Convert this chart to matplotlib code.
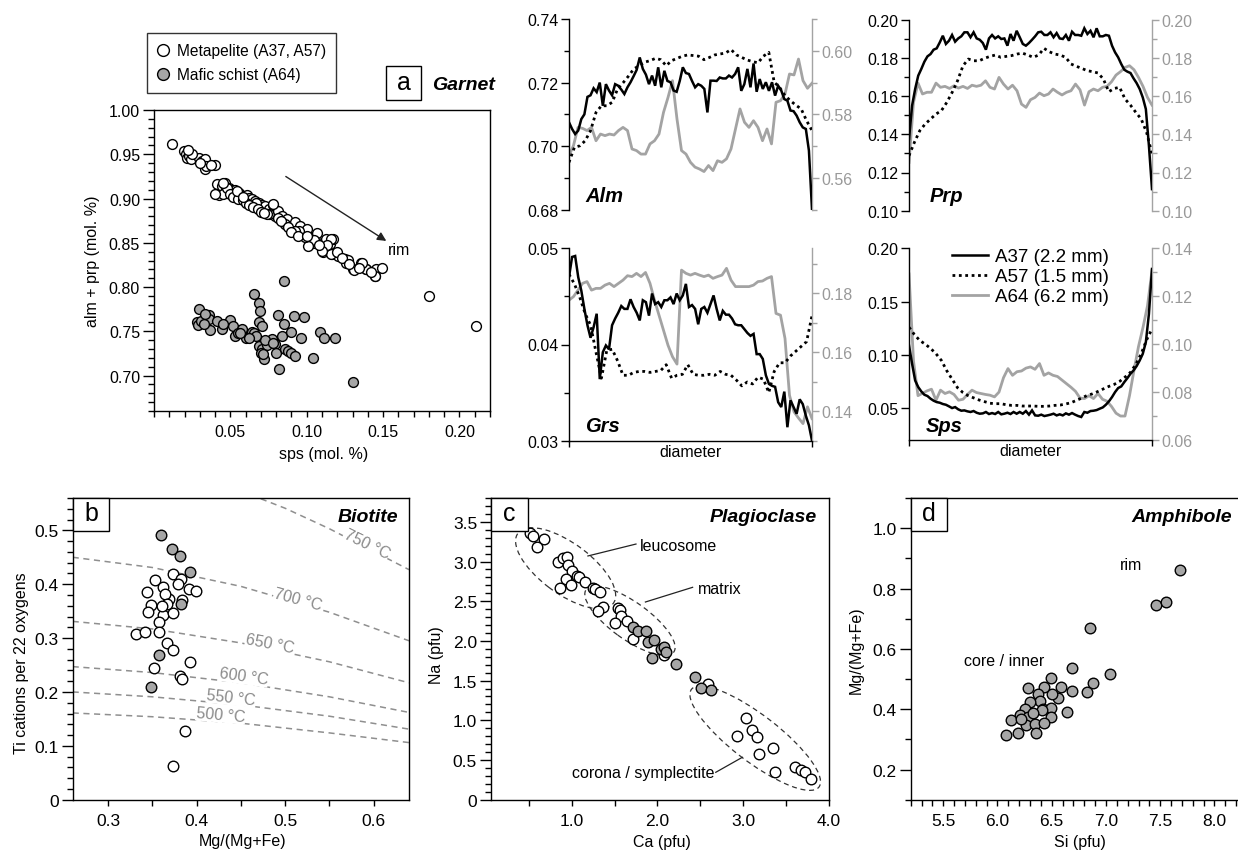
import numpy as np
import matplotlib
matplotlib.use("Agg")
import matplotlib.pyplot as plt
from matplotlib.patches import Ellipse, Rectangle
from matplotlib.ticker import MultipleLocator, FuncFormatter, FixedLocator
from matplotlib.lines import Line2D

plt.rcParams['font.family'] = ['Liberation Sans', 'DejaVu Sans']
plt.rcParams['axes.linewidth'] = 1.0

# ---------------- DATA ----------------
# (a) garnet: sps vs alm+prp
a_meta_sps = [0.0115, 0.0196, 0.0207, 0.0213, 0.0228, 0.0239, 0.0294, 0.0315, 0.0337, 0.0333, 0.0341, 0.0398,
              0.0413, 0.0424, 0.0446, 0.0463, 0.0472, 0.0489, 0.0511, 0.0533, 0.0559, 0.0576, 0.0609, 0.0624,
              0.0641, 0.0663, 0.0685, 0.0706, 0.0728, 0.075, 0.0776, 0.0793, 0.075, 0.0815, 0.0837, 0.0859,
              0.0869, 0.0902, 0.0924, 0.0956, 0.0978, 0.100, 0.1011, 0.1043, 0.1065, 0.1098, 0.1124, 0.1152,
              0.1174, 0.1108, 0.1163, 0.1206, 0.125, 0.1271, 0.1304, 0.1358, 0.1391, 0.1445, 0.1456,
              0.149, 0.145, 0.139, 0.136, 0.131, 0.126, 0.127, 0.116, 0.116, 0.113, 0.110, 0.105, 0.101,
              0.099, 0.095, 0.092, 0.086, 0.081, 0.074, 0.078, 0.067, 0.180, 0.211,
              0.045, 0.048, 0.050, 0.052, 0.055, 0.058, 0.060, 0.062, 0.065, 0.068, 0.070, 0.072, 0.0545,
              0.0455, 0.040, 0.058, 0.083, 0.088, 0.090, 0.094, 0.100, 0.108, 0.120, 0.123, 0.128, 0.134,
              0.142, 0.025, 0.030, 0.037, 0.022]
a_meta_almprp = [0.9614, 0.9539, 0.9501, 0.9463, 0.9482, 0.9444, 0.9463, 0.9426, 0.9444, 0.9331, 0.9369, 0.9377,
                 0.9162, 0.9038, 0.9143, 0.9173, 0.9105, 0.9124, 0.9098, 0.9094, 0.9068, 0.9030, 0.9038, 0.9011,
                 0.8992, 0.8974, 0.8955, 0.8925, 0.8910, 0.8879, 0.8925, 0.8804, 0.8823, 0.8861, 0.8804, 0.8710,
                 0.8766, 0.8653, 0.8736, 0.8691, 0.8616, 0.8653, 0.8540, 0.8503, 0.8616, 0.8503, 0.8540, 0.8484,
                 0.8540, 0.8397, 0.8371, 0.8352, 0.8314, 0.8277, 0.8202, 0.8277, 0.8202, 0.8126, 0.8202,
                 0.822, 0.8126, 0.820, 0.827, 0.819, 0.8277, 0.831, 0.854, 0.837, 0.847, 0.841, 0.853, 0.846,
                 0.856, 0.863, 0.863, 0.871, 0.8785, 0.882, 0.894, 0.8955, 0.790, 0.756,
                 0.905, 0.912, 0.905, 0.902, 0.900, 0.898, 0.895, 0.893, 0.890, 0.888, 0.885, 0.884, 0.908,
                 0.918, 0.905, 0.902, 0.875, 0.868, 0.862, 0.858, 0.858, 0.848, 0.840, 0.833, 0.826, 0.822,
                 0.817, 0.950, 0.940, 0.938, 0.955]
a_mafic_sps = [0.0294, 0.0283, 0.029, 0.036, 0.036, 0.0366, 0.0413, 0.0446, 0.050, 0.0517, 0.053, 0.0577, 0.060,
               0.0641, 0.0652, 0.0685, 0.0696, 0.0685, 0.0707, 0.0685, 0.0707, 0.0717, 0.075, 0.077, 0.0793,
               0.080, 0.082, 0.0848, 0.0836, 0.086, 0.088, 0.090, 0.0923, 0.0896, 0.096, 0.0916, 0.0982, 0.104,
               0.1086, 0.111, 0.1185, 0.130, 0.0848, 0.0652, 0.081, 0.074, 0.0725, 0.078, 0.070, 0.067, 0.055,
               0.062, 0.031, 0.033, 0.0335, 0.045, 0.0565, 0.0715]
a_mafic_almprp = [0.7757, 0.760, 0.757, 0.769, 0.764, 0.752, 0.7617, 0.753, 0.7625, 0.756, 0.745, 0.753, 0.743,
                  0.749, 0.792, 0.7825, 0.773, 0.760, 0.756, 0.7335, 0.7297, 0.7184, 0.739, 0.741, 0.7354,
                  0.726, 0.707, 0.758, 0.745, 0.730, 0.728, 0.725, 0.722, 0.749, 0.742, 0.767, 0.766, 0.7195,
                  0.749, 0.743, 0.743, 0.693, 0.807, 0.7485, 0.768, 0.735, 0.740, 0.737, 0.726, 0.745, 0.748,
                  0.742, 0.762, 0.758, 0.770, 0.758, 0.748, 0.724]

# garnet profiles (evenly spaced analyses along the diameter)
alm_A37 = [0.7075, 0.7054, 0.7038, 0.7049, 0.7085, 0.7100, 0.7155, 0.7160, 0.7182, 0.7170,
           0.7200, 0.7127, 0.7195, 0.7175, 0.7160, 0.7195, 0.7190, 0.7178, 0.7164, 0.7185,
           0.7201, 0.7220, 0.7240, 0.7279, 0.7243, 0.7225, 0.7195, 0.7222, 0.7190, 0.7248,
           0.7185, 0.7237, 0.7205, 0.7201, 0.7175, 0.7171, 0.7205, 0.7248, 0.7230, 0.7227,
           0.7205, 0.7185, 0.7195, 0.7190, 0.7180, 0.7106, 0.7206, 0.7206, 0.7205, 0.7216,
           0.7213, 0.7213, 0.7222, 0.7216, 0.7227, 0.7248, 0.7174, 0.7195, 0.7243, 0.7185,
           0.7260, 0.7171, 0.7211, 0.7180, 0.7201, 0.7174, 0.7201, 0.7159, 0.7190, 0.7175,
           0.7148, 0.7143, 0.7112, 0.7110, 0.7096, 0.7075, 0.7059, 0.7054, 0.6986, 0.6800]
alm_A57 = [0.6949, 0.6996, 0.7001, 0.7017, 0.7049, 0.7106, 0.7127, 0.7127, 0.7138, 0.7180,
           0.7199, 0.7220, 0.7243, 0.7253, 0.7264, 0.7269, 0.7276, 0.7272, 0.7253, 0.7269,
           0.7276, 0.7283, 0.7287, 0.7285, 0.7283, 0.7272, 0.7279, 0.7287, 0.7290, 0.7293,
           0.7304, 0.7287, 0.7279, 0.7271, 0.7266, 0.7262, 0.7283, 0.7295, 0.7201, 0.7185,
           0.7159, 0.7143, 0.7129, 0.7117, 0.7080, 0.7049]
alm_A64 = [0.5670, 0.5702, 0.5759, 0.5756, 0.5749, 0.5759, 0.5717, 0.5738, 0.5733, 0.5738,
           0.5735, 0.5749, 0.5759, 0.5749, 0.5691, 0.5686, 0.5675, 0.5675, 0.5707, 0.5717,
           0.5738, 0.5806, 0.5853, 0.5906, 0.5785, 0.5686, 0.5675, 0.5649, 0.5634, 0.5628,
           0.5620, 0.5639, 0.5623, 0.5654, 0.5649, 0.5660, 0.5691, 0.5754, 0.5817, 0.5775,
           0.5759, 0.5780, 0.5759, 0.5717, 0.5754, 0.5707, 0.5838, 0.5843, 0.5864, 0.5927,
           0.5924, 0.5974, 0.5906, 0.5882, 0.5898]
prp_A37 = [0.1375, 0.1550, 0.1637, 0.1707, 0.1742, 0.1780, 0.1808, 0.1820, 0.1843, 0.1850,
           0.1881, 0.1916, 0.1873, 0.1890, 0.1920, 0.1885, 0.1902, 0.1913, 0.1934, 0.1934,
           0.1908, 0.1934, 0.1902, 0.1895, 0.1878, 0.1843, 0.1902, 0.1920, 0.1902, 0.1913,
           0.1899, 0.1902, 0.1864, 0.1925, 0.1890, 0.1942, 0.1908, 0.1873, 0.1864, 0.1878,
           0.1895, 0.1913, 0.1934, 0.1937, 0.1920, 0.1920, 0.1934, 0.1908, 0.1930, 0.1902,
           0.1899, 0.1920, 0.1890, 0.1937, 0.1920, 0.1920, 0.1916, 0.1955, 0.1925, 0.1942,
           0.1908, 0.1955, 0.1913, 0.1913, 0.1920, 0.1916, 0.1864, 0.1829, 0.1803, 0.1768,
           0.1738, 0.1728, 0.1721, 0.1693, 0.1668, 0.1637, 0.1593, 0.1532, 0.1340, 0.1113]
prp_A57 = [0.1288, 0.1358, 0.1419, 0.1454, 0.1480, 0.1506, 0.1524, 0.1567, 0.1620, 0.1681,
           0.1759, 0.1794, 0.1785, 0.1785, 0.1798, 0.1808, 0.1815, 0.1803, 0.1808, 0.1812,
           0.1820, 0.1825, 0.1815, 0.1803, 0.1815, 0.1850, 0.1832, 0.1820, 0.1815, 0.1803,
           0.1768, 0.1756, 0.1745, 0.1733, 0.1728, 0.1721, 0.1689, 0.1623, 0.1640, 0.1646,
           0.1585, 0.1553, 0.1515, 0.1480, 0.1410, 0.1297]
prp_A64 = [0.1253, 0.1567, 0.1668, 0.1611, 0.1620, 0.1620, 0.1668, 0.1646, 0.1651, 0.1640,
           0.1654, 0.1642, 0.1651, 0.1640, 0.1657, 0.1651, 0.1657, 0.1680, 0.1646, 0.1637,
           0.1698, 0.1663, 0.1637, 0.1657, 0.1628, 0.1558, 0.1541, 0.1581, 0.1593, 0.1616,
           0.1602, 0.1611, 0.1637, 0.1620, 0.1606, 0.1620, 0.1628, 0.1663, 0.1633, 0.1553,
           0.1623, 0.1637, 0.1628, 0.1646, 0.1651, 0.1675, 0.1710, 0.1728, 0.1750, 0.1759,
           0.1738, 0.1698, 0.1651, 0.1593, 0.1553]
grs_A37 = [0.0470, 0.0491, 0.0492, 0.0470, 0.0456, 0.0437, 0.0420, 0.0407, 0.0418, 0.0432,
           0.0364, 0.0392, 0.0399, 0.0395, 0.0420, 0.0427, 0.0433, 0.0440, 0.0437, 0.0437,
           0.0447, 0.0439, 0.0433, 0.0425, 0.0446, 0.0444, 0.0430, 0.0453, 0.0442, 0.0444,
           0.0439, 0.0446, 0.0446, 0.0449, 0.0442, 0.0453, 0.0446, 0.0451, 0.0463, 0.0439,
           0.0441, 0.0437, 0.0421, 0.0437, 0.0439, 0.0433, 0.0442, 0.0451, 0.0437, 0.0425,
           0.0435, 0.0431, 0.0431, 0.0427, 0.0421, 0.0420, 0.0420, 0.0416, 0.0412, 0.0409,
           0.0411, 0.0390, 0.0390, 0.0385, 0.0368, 0.0359, 0.0357, 0.0356, 0.0340, 0.0335,
           0.0351, 0.0314, 0.0342, 0.0335, 0.0328, 0.0343, 0.0338, 0.0326, 0.0316, 0.0300]
grs_A57 = [0.0473, 0.0463, 0.0449, 0.0432, 0.0420, 0.0392, 0.0365, 0.0394, 0.0395, 0.0383,
           0.0368, 0.0368, 0.0371, 0.0372, 0.0372, 0.0371, 0.0372, 0.0373, 0.0379, 0.0365,
           0.0368, 0.0369, 0.0379, 0.0369, 0.0368, 0.0368, 0.0369, 0.0368, 0.0372, 0.0369,
           0.0368, 0.0363, 0.0357, 0.0361, 0.0359, 0.0366, 0.0364, 0.0350, 0.0372, 0.0381,
           0.0381, 0.0388, 0.0393, 0.0398, 0.0403, 0.0430]
grs_A64 = [0.1777, 0.1789, 0.1811, 0.1834, 0.1840, 0.1811, 0.1817, 0.1817, 0.1828, 0.1834,
           0.1823, 0.1834, 0.1845, 0.1860, 0.1857, 0.1868, 0.1857, 0.1871, 0.1834, 0.1777,
           0.1726, 0.1675, 0.1624, 0.1585, 0.1560, 0.1879, 0.1868, 0.1862, 0.1868, 0.1862,
           0.1857, 0.1862, 0.1851, 0.1857, 0.1862, 0.1885, 0.1845, 0.1823, 0.1823, 0.1823,
           0.1823, 0.1828, 0.1840, 0.1842, 0.1851, 0.1857, 0.1732, 0.1726, 0.1647, 0.1454,
           0.1398, 0.1377, 0.1358, 0.1415, 0.1375]
sps_A37 = [0.1088, 0.0916, 0.0759, 0.0697, 0.0656, 0.0625, 0.0613, 0.0588, 0.0569, 0.0556,
           0.0550, 0.0538, 0.0531, 0.0516, 0.0500, 0.0509, 0.0488, 0.0475, 0.0478, 0.0469,
           0.0463, 0.0472, 0.0456, 0.0447, 0.0450, 0.0463, 0.0444, 0.0453, 0.0444, 0.0463,
           0.0441, 0.0447, 0.0456, 0.0444, 0.0463, 0.0447, 0.0463, 0.0447, 0.0472, 0.0438,
           0.0478, 0.0431, 0.0428, 0.0438, 0.0425, 0.0431, 0.0438, 0.0447, 0.0431, 0.0441,
           0.0431, 0.0450, 0.0438, 0.0453, 0.0438, 0.0425, 0.0416, 0.0463, 0.0456, 0.0472,
           0.0475, 0.0481, 0.0494, 0.0506, 0.0531, 0.0563, 0.0603, 0.0650, 0.0688, 0.0703,
           0.0744, 0.0781, 0.0822, 0.0853, 0.0894, 0.0947, 0.1009, 0.1119, 0.1384, 0.1806]
sps_A57 = [0.1259, 0.1190, 0.1134, 0.1100, 0.1060, 0.1010, 0.0947, 0.0850, 0.0770, 0.0690,
           0.0645, 0.0615, 0.0595, 0.0575, 0.0560, 0.0545, 0.0541, 0.0541, 0.0531, 0.0525,
           0.0525, 0.0519, 0.0519, 0.0519, 0.0516, 0.0516, 0.0519, 0.0525, 0.0528, 0.0538,
           0.0550, 0.0572, 0.0594, 0.0619, 0.0634, 0.0656, 0.0680, 0.0703, 0.0722, 0.0750,
           0.0790, 0.0835, 0.0910, 0.1010, 0.1140, 0.1244]
sps_A64 = [0.1293, 0.0930, 0.0785, 0.0795, 0.0805, 0.0812, 0.0766, 0.0808, 0.0794, 0.0801,
           0.0790, 0.0766, 0.0770, 0.0790, 0.0808, 0.0798, 0.0794, 0.0790, 0.0787, 0.0780,
           0.0800, 0.0860, 0.0898, 0.0870, 0.0885, 0.0888, 0.0900, 0.0905, 0.0895, 0.0919,
           0.0870, 0.0880, 0.0870, 0.0865, 0.0850, 0.0835, 0.0820, 0.0803, 0.0775, 0.0773,
           0.0785, 0.0773, 0.0794, 0.0770, 0.0762, 0.0740, 0.0712, 0.0700, 0.0700, 0.0785,
           0.0891, 0.0990, 0.1070, 0.1160, 0.1307]
profile_labels = ["A37 (2.2 mm)", "A57 (1.5 mm)", "A64 (6.2 mm)"]

# (b) biotite
b_meta_mg = [0.353, 0.344, 0.362, 0.373, 0.382, 0.379, 0.391, 0.399, 0.369, 0.364, 0.348, 0.345, 0.362, 0.373,
             0.357, 0.331, 0.342, 0.357, 0.366, 0.373, 0.392, 0.352, 0.381, 0.383, 0.387, 0.373, 0.366, 0.383, 0.361]
b_meta_ti = [0.407, 0.385, 0.395, 0.419, 0.410, 0.401, 0.392, 0.388, 0.372, 0.382, 0.361, 0.348, 0.342, 0.346,
             0.330, 0.308, 0.311, 0.311, 0.291, 0.278, 0.256, 0.245, 0.229, 0.224, 0.128, 0.063, 0.364, 0.370, 0.360]
b_mafic_mg = [0.360, 0.372, 0.381, 0.392, 0.382, 0.357, 0.348]
b_mafic_ti = [0.491, 0.466, 0.452, 0.423, 0.364, 0.269, 0.209]
iso_T = [500, 550, 600, 650, 700, 750]
iso_mg = [[0.26, 0.35, 0.45, 0.55, 0.64]] * 5 + [[0.45, 0.50, 0.55, 0.64]]
iso_ti = [[0.161, 0.154, 0.142, 0.124, 0.106],
          [0.200, 0.191, 0.176, 0.155, 0.131],
          [0.247, 0.236, 0.217, 0.191, 0.162],
          [0.331, 0.317, 0.291, 0.256, 0.217],
          [0.450, 0.431, 0.396, 0.348, 0.295],
          [0.573, 0.541, 0.503, 0.427]]
iso_lab_mg = [0.427, 0.439, 0.453, 0.483, 0.515, 0.5925]
iso_lab_ti = [0.158, 0.190, 0.229, 0.290, 0.373, 0.476]
iso_lab_rot = [-5, -6.5, -8, -11, -15, -26]

# (c) plagioclase
c_meta_ca = [0.516, 0.555, 0.679, 0.594, 0.838, 0.903, 0.942, 0.961, 1.0, 1.058, 1.08, 1.155, 1.25, 1.27, 1.33,
             0.93, 0.99, 0.87, 1.36, 1.31, 1.54, 1.56, 1.58, 1.51, 1.64, 1.72, 2.08, 2.59, 3.03, 2.93, 3.10,
             3.16, 3.18, 3.35, 3.37, 3.60, 3.67, 3.72, 3.79]
c_meta_na = [3.365, 3.32, 3.28, 3.185, 2.996, 3.04, 3.06, 2.954, 2.88, 2.82, 2.80, 2.745, 2.67, 2.65, 2.61,
             2.78, 2.70, 2.665, 2.43, 2.38, 2.42, 2.39, 2.32, 2.22, 2.25, 2.03, 1.82, 1.46, 1.024, 0.80, 0.88,
             0.785, 0.575, 0.646, 0.352, 0.407, 0.373, 0.344, 0.26]
c_mafic_ca = [1.72, 1.77, 1.87, 1.89, 1.96, 1.94, 2.04, 2.08, 2.10, 2.22, 2.44, 2.51, 2.62]
c_mafic_na = [2.17, 2.13, 2.13, 1.99, 2.01, 1.78, 1.90, 1.92, 1.86, 1.71, 1.55, 1.41, 1.385]
c_groups = ["leucosome", "matrix", "corona / symplectite"]
c_ell_center = [(0.93, 2.915), (1.68, 2.254), (3.14, 0.775)]
c_ell_width = [1.42, 1.29, 1.93]
c_ell_height = [0.62, 0.46, 0.57]
c_ell_angle = [-39.3, -38.2, -40.0]

# (d) amphibole
d_si = [7.683, 7.462, 7.554, 6.853, 6.69, 7.04, 6.884, 6.828, 6.684, 6.644, 6.582, 6.561, 6.49, 6.50, 6.43,
        6.284, 6.376, 6.39, 6.30, 6.416, 6.49, 6.407, 6.253, 6.207, 6.124, 6.284, 6.49, 6.33, 6.26, 6.346,
        6.432, 6.192, 6.355, 6.078, 6.22]
d_mg = [0.863, 0.745, 0.756, 0.670, 0.538, 0.518, 0.486, 0.457, 0.460, 0.391, 0.475, 0.438, 0.502, 0.449, 0.475,
        0.471, 0.449, 0.427, 0.424, 0.399, 0.405, 0.397, 0.399, 0.382, 0.364, 0.375, 0.373, 0.388, 0.346, 0.352,
        0.355, 0.320, 0.320, 0.313, 0.366]

# ---------------- STYLE ----------------
GFILL = '#a6a6a6'
GLINE = '#a3a3a3'
GTEXT = '#999999'
TICK_FS = 11.5
TICK_FS_B = 12.5
LAB_FS = 11.5

W, H = 1238, 854
fig = plt.figure(figsize=(W / 100, H / 100), dpi=100)
fig.patch.set_facecolor('white')


def add_ax(l, t, r, b):
    return fig.add_axes([l / W, 1 - b / H, (r - l) / W, (b - t) / H])


def fmt(dec):
    return FuncFormatter(lambda v, p: '0' if abs(v) < 1e-9 and dec == 1 else f'{v:.{dec}f}')


def style_scatter_axes(ax, fs):
    ax.tick_params(which='both', direction='out', top=False, right=False, labelsize=fs)
    ax.tick_params(axis='y', which='major', length=8, width=1, pad=2)
    ax.tick_params(axis='y', which='minor', length=4, width=1)
    ax.tick_params(axis='x', which='major', length=4.5, width=1, pad=5)
    ax.tick_params(axis='x', which='minor', length=4, width=1)


def letter_box(ax, letter, w_px, h_px, ax_w_px, ax_h_px):
    ax.add_patch(Rectangle((0, 1 - h_px / ax_h_px), w_px / ax_w_px, h_px / ax_h_px,
                           transform=ax.transAxes, facecolor='white', edgecolor='black',
                           lw=1, zorder=10, clip_on=False))
    ax.text(w_px / ax_w_px / 2, 1 - h_px / ax_h_px / 2 + 0.005, letter, transform=ax.transAxes,
            ha='center', va='center', fontsize=18, zorder=11)


# ---------------- (a) garnet scatter ----------------
axA = add_ax(154, 111, 490, 412)
axA.scatter(a_meta_sps, a_meta_almprp, s=50, facecolor='white', edgecolor='black', linewidth=1, zorder=3)
axA.scatter(a_mafic_sps, a_mafic_almprp, s=50, facecolor=GFILL, edgecolor='black', linewidth=1, zorder=3)
axA.set_xlim(0, 0.22)
axA.set_ylim(0.66, 1.00)
axA.xaxis.set_major_locator(FixedLocator([0.05, 0.10, 0.15, 0.20]))
axA.xaxis.set_minor_locator(MultipleLocator(0.01))
axA.xaxis.set_major_formatter(fmt(2))
axA.yaxis.set_major_locator(FixedLocator([0.70, 0.75, 0.80, 0.85, 0.90, 0.95, 1.00]))
axA.yaxis.set_minor_locator(MultipleLocator(0.01))
axA.yaxis.set_major_formatter(fmt(2))
style_scatter_axes(axA, TICK_FS)
axA.text(-0.182, 0.5, 'alm + prp (mol. %)', transform=axA.transAxes, rotation=90,
         ha='center', va='center', fontsize=LAB_FS)
axA.text(0.504, -0.14, 'sps (mol. %)', transform=axA.transAxes, ha='center', va='center', fontsize=LAB_FS)
axA.annotate('', xy=(0.1521, 0.8521), xytext=(0.0863, 0.9249),
             arrowprops=dict(arrowstyle='-|>', color='#222222', lw=1, mutation_scale=13, shrinkA=0, shrinkB=0))
axA.text(0.1533, 0.8427, 'rim', fontsize=LAB_FS, ha='left', va='center')

leg_h = [Line2D([], [], marker='o', ls='', mfc='white', mec='black', ms=8.5, mew=1),
         Line2D([], [], marker='o', ls='', mfc=GFILL, mec='black', ms=8.5, mew=1)]
legA = fig.legend(leg_h, ['Metapelite (A37, A57)', 'Mafic schist (A64)'], loc='upper left',
                  bbox_to_anchor=(147 / W, 1 - 34 / H), frameon=True, fancybox=False, fontsize=11.2,
                  borderpad=0.65, handletextpad=0.45, labelspacing=0.6, handlelength=0.8, borderaxespad=0)
legA.get_frame().set_edgecolor('black')
legA.get_frame().set_linewidth(1)

fig.add_artist(Rectangle((386 / W, 1 - 101 / H), 35 / W, 34 / H, transform=fig.transFigure,
                         facecolor='white', edgecolor='black', lw=1))
fig.text(403.5 / W, 1 - 83 / H, 'a', ha='center', va='center', fontsize=18)
fig.text(432 / W, 1 - 85 / H, 'Garnet', ha='left', va='center', fontsize=14,
         fontweight='bold', fontstyle='italic')


# ---------------- profiles ----------------
def profile(box, s37, s57, s64, liml, limr, majl, minl, majr, minr, decl, decr, name, name_xy, bottom):
    ax = add_ax(*box)
    axr = ax.twinx()
    ax.set_zorder(axr.get_zorder() + 1)
    ax.patch.set_visible(False)
    l37, = ax.plot(np.linspace(0, 1, len(s37)), s37, color='black', lw=1.8, solid_joinstyle='miter')
    l57, = ax.plot(np.linspace(0, 1, len(s57)), s57, color='black', lw=2.0, ls=(0, (1, 1.3)))
    l64, = axr.plot(np.linspace(0, 1, len(s64)), s64, color=GLINE, lw=2.0)
    ax.set_xlim(0, 1)
    ax.set_ylim(*liml)
    axr.set_ylim(*limr)
    for sp in ['top', 'right']:
        ax.spines[sp].set_visible(False)
    for sp in ['top', 'left', 'bottom']:
        axr.spines[sp].set_visible(False)
    axr.spines['right'].set_color(GLINE)
    ax.yaxis.set_major_locator(FixedLocator(majl))
    if minl:
        ax.yaxis.set_minor_locator(FixedLocator(minl))
    ax.yaxis.set_major_formatter(fmt(decl))
    axr.yaxis.set_major_locator(FixedLocator(majr))
    axr.yaxis.set_minor_locator(FixedLocator(minr))
    axr.yaxis.set_major_formatter(fmt(decr))
    ax.tick_params(axis='y', which='major', direction='out', length=6, width=1, labelsize=TICK_FS, pad=1.5)
    ax.tick_params(axis='y', which='minor', direction='out', length=3.5, width=1)
    axr.tick_params(axis='y', which='major', direction='out', length=5, width=1, color=GLINE,
                    labelcolor=GTEXT, labelsize=TICK_FS, pad=1.5)
    axr.tick_params(axis='y', which='minor', direction='out', length=3.5, width=1, color=GLINE)
    axr.tick_params(axis='x', bottom=False, labelbottom=False)
    if bottom:
        ax.set_xticks([0, 1])
        ax.tick_params(axis='x', direction='out', length=4, width=1, labelbottom=False)
        ax.text(0.5, -0.055, 'diameter', transform=ax.transAxes, ha='center', va='center', fontsize=LAB_FS)
    else:
        ax.spines['bottom'].set_visible(False)
        ax.tick_params(axis='x', bottom=False, labelbottom=False)
    ax.text(name_xy[0], name_xy[1], name, transform=ax.transAxes, ha='left', va='baseline',
            fontsize=14.5, fontweight='bold', fontstyle='italic', zorder=5)
    return ax, axr, (l37, l57, l64)


profile((569, 20, 812, 210.7), alm_A37, alm_A57, alm_A64, (0.68, 0.74), (0.55, 0.61),
        [0.68, 0.70, 0.72, 0.74], [0.69, 0.71, 0.73], [0.56, 0.58, 0.60], [0.55, 0.57, 0.59, 0.61],
        2, 2, 'Alm', (0.066, 0.047), False)
profile((909, 20.7, 1152, 211.7), prp_A37, prp_A57, prp_A64, (0.10, 0.20), (0.10, 0.20),
        [0.10, 0.12, 0.14, 0.16, 0.18, 0.20], [0.11, 0.13, 0.15, 0.17, 0.19],
        [0.10, 0.12, 0.14, 0.16, 0.18, 0.20], [0.11, 0.13, 0.15, 0.17, 0.19],
        2, 2, 'Prp', (0.086, 0.052), False)
profile((569, 249.3, 812, 441.7), grs_A37, grs_A57, grs_A64, (0.03, 0.05), (0.13, 0.1953),
        [0.03, 0.04, 0.05], [0.035, 0.045], [0.14, 0.16, 0.18], [0.13, 0.15, 0.17, 0.19],
        2, 2, 'Grs', (0.066, 0.052), True)
axS, axSr, linesS = profile((909, 249.3, 1152, 441), sps_A37, sps_A57, sps_A64, (0.02, 0.20), (0.06, 0.14),
                            [0.05, 0.10, 0.15, 0.20], [], [0.06, 0.08, 0.10, 0.12, 0.14], [0.07, 0.09, 0.11, 0.13],
                            2, 2, 'Sps', (0.07, 0.049), True)
axS.legend(linesS, profile_labels, loc='upper left', bbox_to_anchor=(0.16, 1.02), frameon=False,
           fontsize=13.5, handlelength=1.95, handletextpad=0.38, labelspacing=0.15, borderpad=0.2,
           borderaxespad=0)

# ---------------- (b) biotite ----------------
axB = add_ax(72.7, 499, 409, 800.7)
for mg, ti in zip(iso_mg, iso_ti):
    axB.plot(mg, ti, color='#8f8f8f', lw=1.1, ls=(0, (4, 3)), zorder=1)
for T, x, y, r in zip(iso_T, iso_lab_mg, iso_lab_ti, iso_lab_rot):
    axB.text(x, y, f'{T} °C', color='#8a8a8a', fontsize=11.5, rotation=r, rotation_mode='anchor',
             ha='center', va='center', zorder=2,
             bbox=dict(facecolor='white', edgecolor='none', pad=0.3))
axB.scatter(b_meta_mg, b_meta_ti, s=58, facecolor='white', edgecolor='black', linewidth=1, zorder=3)
axB.scatter(b_mafic_mg, b_mafic_ti, s=58, facecolor=GFILL, edgecolor='black', linewidth=1, zorder=4)
axB.set_xlim(0.26, 0.64)
axB.set_ylim(0, 0.56)
axB.xaxis.set_major_locator(FixedLocator([0.3, 0.4, 0.5, 0.6]))
axB.xaxis.set_minor_locator(FixedLocator([0.35, 0.45, 0.55]))
axB.xaxis.set_major_formatter(fmt(1))
axB.yaxis.set_major_locator(FixedLocator([0, 0.1, 0.2, 0.3, 0.4, 0.5]))
axB.yaxis.set_minor_locator(MultipleLocator(0.02))
axB.yaxis.set_major_formatter(fmt(1))
style_scatter_axes(axB, TICK_FS_B)
axB.text(-0.152, 0.456, 'Ti cations per 22 oxygens', transform=axB.transAxes, rotation=90,
         ha='center', va='center', fontsize=LAB_FS)
axB.text(0.504, -0.136, 'Mg/(Mg+Fe)', transform=axB.transAxes, ha='center', va='center', fontsize=LAB_FS)
axB.text(0.968, 0.938, 'Biotite', transform=axB.transAxes, ha='right', va='center', fontsize=14,
         fontweight='bold', fontstyle='italic', zorder=6)
letter_box(axB, 'b', 36.6, 33, 336.3, 301.7)

# ---------------- (c) plagioclase ----------------
axC = add_ax(491, 499, 829, 800.7)
for cen, w, h, ang in zip(c_ell_center, c_ell_width, c_ell_height, c_ell_angle):
    axC.add_patch(Ellipse(cen, w, h, angle=ang, fill=False, edgecolor='#333333', lw=0.9,
                          ls=(0, (4, 3)), zorder=1))
axC.scatter(c_meta_ca, c_meta_na, s=58, facecolor='white', edgecolor='black', linewidth=1, zorder=3)
axC.scatter(c_mafic_ca, c_mafic_na, s=58, facecolor=GFILL, edgecolor='black', linewidth=1, zorder=4)
axC.plot([1.19, 1.75], [3.07, 3.22], color='#222222', lw=0.9)
axC.text(1.79, 3.2, c_groups[0], fontsize=LAB_FS, ha='left', va='center')
axC.plot([1.86, 2.41], [2.49, 2.675], color='#222222', lw=0.9)
axC.text(2.47, 2.66, c_groups[1], fontsize=LAB_FS, ha='left', va='center')
axC.plot([2.68, 2.99], [0.345, 0.534], color='#222222', lw=0.9)
axC.text(2.66, 0.345, c_groups[2], fontsize=LAB_FS, ha='right', va='center')
axC.set_xlim(0.06, 4.0)
axC.set_ylim(0, 3.8)
axC.xaxis.set_major_locator(FixedLocator([1.0, 2.0, 3.0, 4.0]))
axC.xaxis.set_minor_locator(FixedLocator([0.5, 1.5, 2.5, 3.5]))
axC.xaxis.set_major_formatter(fmt(1))
axC.yaxis.set_major_locator(FixedLocator([0, 0.5, 1.0, 1.5, 2.0, 2.5, 3.0, 3.5]))
axC.yaxis.set_minor_locator(MultipleLocator(0.1))
axC.yaxis.set_major_formatter(fmt(1))
style_scatter_axes(axC, TICK_FS_B)
axC.text(-0.161, 0.483, 'Na (pfu)', transform=axC.transAxes, rotation=90, ha='center', va='center',
         fontsize=LAB_FS)
axC.text(0.505, -0.137, 'Ca (pfu)', transform=axC.transAxes, ha='center', va='center', fontsize=LAB_FS)
axC.text(0.964, 0.938, 'Plagioclase', transform=axC.transAxes, ha='right', va='center', fontsize=14,
         fontweight='bold', fontstyle='italic', zorder=6)
letter_box(axC, 'c', 36.6, 33, 338, 301.7)

# ---------------- (d) amphibole ----------------
axD = add_ax(910.7, 499, 1247, 800.7)
axD.scatter(d_si, d_mg, s=58, facecolor=GFILL, edgecolor='black', linewidth=1, zorder=3)
axD.text(7.13, 0.878, 'rim', fontsize=LAB_FS, ha='left', va='center')
axD.text(5.69, 0.562, 'core / inner', fontsize=LAB_FS, ha='left', va='center')
axD.set_xlim(5.2, 8.3)
axD.set_ylim(0.1, 1.1)
axD.xaxis.set_major_locator(FixedLocator([5.5, 6.0, 6.5, 7.0, 7.5, 8.0]))
axD.xaxis.set_minor_locator(MultipleLocator(0.1))
axD.xaxis.set_major_formatter(fmt(1))
axD.yaxis.set_major_locator(FixedLocator([0.2, 0.4, 0.6, 0.8, 1.0]))
axD.yaxis.set_minor_locator(MultipleLocator(0.1))
axD.yaxis.set_major_formatter(fmt(1))
style_scatter_axes(axD, TICK_FS_B)
axD.text(-0.161, 0.5, 'Mg/(Mg+Fe)', transform=axD.transAxes, rotation=90, ha='center', va='center',
         fontsize=LAB_FS)
axD.text(0.503, -0.137, 'Si (pfu)', transform=axD.transAxes, ha='center', va='center', fontsize=LAB_FS)
axD.text(0.956, 0.938, 'Amphibole', transform=axD.transAxes, ha='right', va='center', fontsize=14,
         fontweight='bold', fontstyle='italic', zorder=6)
letter_box(axD, 'd', 36.6, 33, 336.3, 301.7)

fig.savefig('out.png', dpi=100, facecolor='white')
